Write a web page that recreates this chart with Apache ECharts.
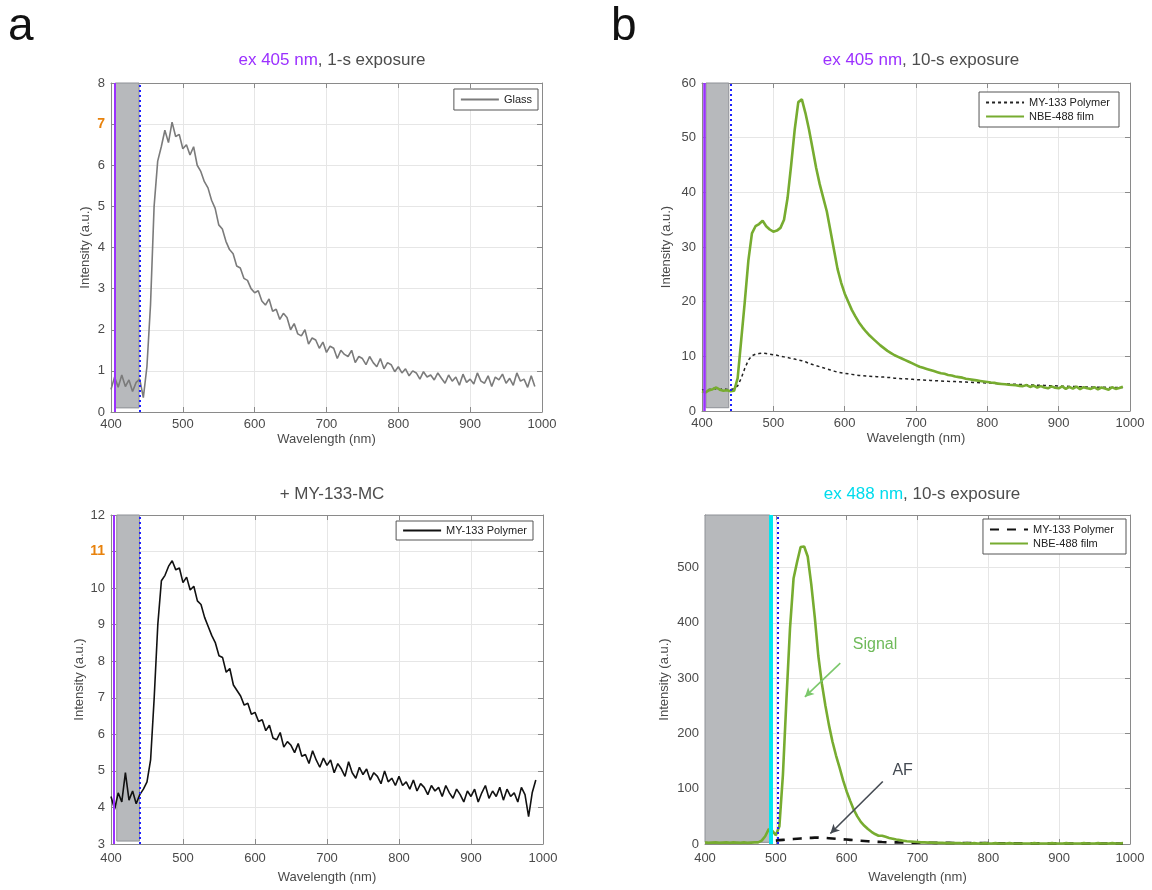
<!DOCTYPE html>
<html><head><meta charset="utf-8">
<script src="https://cdn.jsdelivr.net/npm/echarts@6/dist/echarts.min.js"></script>
<style>html,body{margin:0;padding:0;background:#fff}#c{width:1152px;height:890px}</style>
</head><body><div id="c"></div>
<script>
// ---- sampling of the spectra (nm) ----
const WL_START = 400, WL_STEP = 5;

// panel a, top: Glass, ex 405 nm, 1-s
const glass = [0.55,0.85,0.6,0.9,0.62,0.78,0.5,0.72,0.8,0.35,
 1.1,2.6,5.0,6.1,6.45,6.85,6.55,7.05,6.7,6.75,
 6.4,6.5,6.25,6.45,6.0,5.85,5.6,5.45,5.15,4.95,
 4.55,4.45,4.15,3.95,3.85,3.55,3.5,3.25,3.2,3.0,
 2.9,2.95,2.7,2.6,2.75,2.45,2.5,2.25,2.4,2.3,
 2.0,2.15,1.9,1.85,2.0,1.65,1.8,1.75,1.55,1.7,
 1.45,1.6,1.55,1.3,1.5,1.4,1.35,1.5,1.2,1.35,
 1.3,1.15,1.35,1.2,1.1,1.3,1.05,1.2,1.15,0.98,
 1.1,0.95,1.05,0.88,1.0,0.95,0.8,0.98,0.85,0.9,
 0.78,0.95,0.82,0.7,0.9,0.75,0.85,0.65,0.92,0.72,
 0.8,0.68,0.95,0.75,0.7,0.88,0.62,0.85,0.78,0.92,
 0.7,0.82,0.65,0.95,0.75,0.8,0.6,0.88,0.62];

// panel a, bottom: MY-133 Polymer
const my133A = [4.3,3.95,4.4,4.15,4.95,4.2,4.45,4.1,4.35,4.5,
 4.7,5.3,7.0,9.0,10.2,10.35,10.6,10.75,10.5,10.55,
 10.15,10.3,9.95,10.05,9.65,9.55,9.2,8.95,8.7,8.5,
 8.15,8.1,7.7,7.8,7.35,7.2,7.05,6.8,6.85,6.55,
 6.6,6.35,6.4,6.1,6.25,5.9,5.85,6.05,5.65,5.8,
 5.7,5.5,5.75,5.4,5.45,5.2,5.55,5.3,5.1,5.35,
 5.15,5.3,4.95,5.2,5.05,4.85,5.25,4.95,4.8,5.1,
 4.9,5.05,4.75,4.95,4.85,4.65,5.0,4.7,4.8,4.6,
 4.85,4.6,4.7,4.5,4.75,4.45,4.65,4.55,4.35,4.6,
 4.45,4.55,4.3,4.6,4.4,4.25,4.5,4.35,4.15,4.45,
 4.3,4.5,4.15,4.4,4.6,4.25,4.45,4.3,4.55,4.2,
 4.5,4.3,4.4,4.15,4.55,4.35,3.75,4.4,4.75];

// panel b, top: ex 405 nm, 10-s
const my133B = [3.8,4.0,3.9,4.2,4.0,3.9,4.1,3.95,3.9,4.1,
 4.6,6.0,7.8,9.3,10.1,10.4,10.5,10.6,10.5,10.4,
 10.3,10.2,10.0,9.9,9.8,9.6,9.5,9.3,9.2,9.0,
 8.7,8.5,8.3,8.1,7.9,7.7,7.5,7.3,7.1,7.0,
 6.9,6.8,6.7,6.6,6.5,6.45,6.4,6.35,6.3,6.28,
 6.25,6.2,6.15,6.1,6.0,5.95,5.9,5.9,5.85,5.8,
 5.75,5.7,5.68,5.62,5.6,5.55,5.52,5.5,5.45,5.42,
 5.4,5.38,5.35,5.3,5.3,5.25,5.22,5.2,5.18,5.15,
 5.12,5.1,5.05,5.02,5.0,4.98,4.95,4.92,4.9,4.85,
 4.82,4.8,4.78,4.75,4.72,4.7,4.68,4.65,4.62,4.6,
 4.58,4.55,4.52,4.5,4.48,4.46,4.44,4.42,4.4,4.38,
 4.36,4.35,4.34,4.33,4.32,4.31,4.3,4.3,4.28];
const nbeB = [3.6,3.4,3.8,4.0,4.3,3.9,3.7,3.8,3.6,3.7,
 6,13,20,27.5,32.5,33.8,34.2,34.8,33.8,33.2,
 32.8,33.0,33.5,35,39,45,51.5,56.5,57,54.5,
 51.5,48,44.5,41.5,39,36.5,33,29.5,26,23.5,
 21.5,20,18.5,17.3,16.2,15.3,14.5,13.8,13.2,12.6,
 12.0,11.5,11.0,10.6,10.2,9.9,9.6,9.3,9.0,8.7,
 8.4,8.1,7.9,7.7,7.5,7.3,7.1,6.9,6.8,6.6,
 6.5,6.3,6.2,6.1,5.9,5.8,5.7,5.6,5.5,5.4,
 5.3,5.2,5.15,5.0,4.95,4.9,4.8,4.75,4.7,4.6,
 4.55,4.75,4.4,4.65,4.3,4.55,4.3,4.15,4.5,4.25,
 4.15,4.5,4.05,4.4,4.1,4.45,4.0,4.35,4.15,4.05,
 4.35,3.95,4.3,4.1,3.9,4.35,4.05,4.2,4.45];

// panel b, bottom: ex 488 nm, 10-s
const my133C = [null,null,null,null,null,null,null,null,null,null,
 null,null,null,null,null,null,null,null,null,null,
 6,7,7.5,8,8.5,9,9.5,10,10.5,11,
 11,11.5,11.5,11,11,10.5,10,9.5,9,8.5,
 8,7.5,7,6.5,6,5.5,5,4.5,4,3.8,
 3.5,3.3,3.1,3,2.9,2.8,2.7,2.6,2.5,2.5,
 2.4,2.3,2.3,2.2,2.2,2.1,2.1,2,2,2,
 1.9,1.9,1.8,1.8,1.7,1.7,1.6,1.6,1.5,1.5,
 1.5,1.4,1.4,1.4,1.3,1.3,1.3,1.2,1.2,1.2,
 1.2,1.2,1.1,1.1,1.1,1.1,1.1,1,1,1,
 1,1,1,1,1,1,1,1,1,1,
 1,1,1,1,1,1,1,1,1];
const nbeC = [3,2,2.5,3,2,2.5,3,2,3,2.5,
 2,3,2,2.5,3,3,6,14,27,24,
 16,32,125,262,390,480,510,537,538,520,
 470,410,340,290,250,215,185,160,138,115,
 95,78,62,50,40,33,27,22,18,15,
 15,13,11,9.5,8,7,6,5,4.5,4,
 3.5,3,3,2.5,2.5,2,2,2,1.5,1.5,
 1.5,1.5,1.5,1,1.5,1,1.5,1,1,1.5,
 1,1,1.5,1,1,1,1.5,1,1,1,
 1,1,1,1.5,1,1,1,1,1.5,1,
 1,1,1.5,1,1,1,1,1.5,1,1,
 1,1.5,1,1,1,1.5,1,1,1.5];

// excitation / filter markers (nm) and shaded blocked range
const exLineA = 405, filterA = 440, bandA = [406, 439];
const exLineA2 = 404.5, filterA2 = 440.5, bandA2 = [408, 439.5];
const exLineB = 402.5, filterB = 440, bandB = [405.5, 437.5];
const exLineC = 493, filterC = 502.5, bandC = [400, 491.5];

// annotation anchors in data space [nm, a.u.]
const signalText = [640, 360], signalArrow = [[591, 327], [541, 266]];
const afText = [679, 133], afArrow = [[651, 113], [577, 19]];

// axis tick settings
const xTicks = {min: 400, max: 1000, interval: 100};
const yTicks = [
  {min: 0, max: 8, interval: 1, hl: 7},
  {min: 3, max: 12, interval: 1, hl: 11},
  {min: 0, max: 60, interval: 10},
  {min: 0, max: 595, interval: 100, hideMax: true}
];

const toPairs = vals => vals.map((v, i) => [WL_START + i * WL_STEP, v]);

const FONT = '"Liberation Sans", Arial, Helvetica, sans-serif';
const AXC = '#8a8a8a', GRIDC = '#e6e6e6', TXT = '#4a4a4a';
const PURPLE = '#9b30ff', BLUE = '#1f1fff', CYAN = '#00e6f0', GREEN = '#77ac30';
const BANDC = '#b7b9bc';

const grids = [
  {left: 111, top: 83, width: 431, height: 329},
  {left: 111, top: 515, width: 432, height: 329},
  {left: 702, top: 83, width: 428, height: 328},
  {left: 705, top: 515, width: 425, height: 329}
];
const yNameGap = [19, 24, 29, 34];
const xNameGap = [21, 27, 21, 27];
const xLabelMargin = [6, 8, 6, 8];

const xAxis = [], yAxis = [];
grids.forEach((g, i) => {
  xAxis.push({
    type: 'value', gridIndex: i, min: xTicks.min, max: xTicks.max, interval: xTicks.interval,
    position: 'bottom', name: 'Wavelength (nm)', nameLocation: 'middle', nameGap: xNameGap[i],
    nameTextStyle: {fontSize: 13, color: TXT, fontFamily: FONT},
    axisLine: {show: true, onZero: false, lineStyle: {color: AXC, width: 1}},
    axisTick: {show: true, inside: true, length: 5, lineStyle: {color: AXC}},
    axisLabel: {fontSize: 13, color: TXT, fontFamily: FONT, margin: xLabelMargin[i], formatter: v => String(v)},
    splitLine: {show: true, lineStyle: {color: GRIDC, width: 1}}
  });
  xAxis.push({
    type: 'value', gridIndex: i, min: xTicks.min, max: xTicks.max, interval: xTicks.interval,
    position: 'top',
    axisLine: {show: true, onZero: false, lineStyle: {color: AXC, width: 1}},
    axisTick: {show: true, inside: true, length: 5, lineStyle: {color: AXC}},
    axisLabel: {show: false}, splitLine: {show: false}
  });
  const yt = yTicks[i];
  yAxis.push({
    type: 'value', gridIndex: i, min: yt.min, max: yt.max, interval: yt.interval,
    position: 'left', name: 'Intensity (a.u.)', nameLocation: 'middle', nameGap: yNameGap[i],
    nameTextStyle: {fontSize: 13, color: TXT, fontFamily: FONT},
    axisLine: {show: true, onZero: false, lineStyle: {color: AXC, width: 1}},
    axisTick: {show: true, inside: true, length: 5, lineStyle: {color: AXC}},
    axisLabel: {
      fontSize: 13, color: TXT, fontFamily: FONT, margin: 6, showMaxLabel: !yt.hideMax,
      formatter: v => (yt.hl !== undefined && v === yt.hl) ? '{o|' + v + '}' : String(v),
      rich: {o: {color: '#e8820c', fontWeight: 'bold', fontSize: 14, fontFamily: FONT}}
    },
    splitLine: {show: true, lineStyle: {color: GRIDC, width: 1}}
  });
  yAxis.push({
    type: 'value', gridIndex: i, min: yt.min, max: yt.max, interval: yt.interval,
    position: 'right',
    axisLine: {show: true, onZero: false, lineStyle: {color: AXC, width: 1}},
    axisTick: {show: true, inside: true, length: 5, lineStyle: {color: AXC}},
    axisLabel: {show: false}, splitLine: {show: false}
  });
});

function decor(i, exLine, exColor, exWidth, filter, band, yLo) {
  const yt = yTicks[i];
  return [
    {
      type: 'line', xAxisIndex: 2 * i, yAxisIndex: 2 * i, data: [], z: 1, silent: true,
      markArea: {
        silent: true,
        itemStyle: {color: BANDC, borderColor: '#8e9196', borderWidth: 1},
        data: [[{coord: [band[0], yLo]}, {coord: [band[1], yt.max]}]]
      }
    },
    {
      type: 'line', xAxisIndex: 2 * i, yAxisIndex: 2 * i, data: [], z: 5, silent: true,
      markLine: {
        silent: true, symbol: ['none', 'none'], label: {show: false},
        data: [
          {xAxis: exLine, lineStyle: {color: exColor, width: exWidth, type: 'solid'}},
          {xAxis: filter, lineStyle: {color: BLUE, width: 2, type: [2, 3]}}
        ]
      }
    }
  ];
}

const series = [];
series.push(...decor(0, exLineA, PURPLE, 2, filterA, bandA, 0.1));
series.push(...decor(1, exLineA2, PURPLE, 2, filterA2, bandA2, 3.08));
series.push(...decor(2, exLineB, PURPLE, 2.5, filterB, bandB, 0.6));
series.push(...decor(3, exLineC, CYAN, 4, filterC, bandC, 3));

const lineBase = {type: 'line', showSymbol: false, symbol: 'none', animation: false, z: 3, silent: true};
series.push(Object.assign({}, lineBase, {name: 'Glass', xAxisIndex: 0, yAxisIndex: 0,
  data: toPairs(glass), lineStyle: {color: '#7b7b7b', width: 1.6}, itemStyle: {color: '#7b7b7b'}}));
series.push(Object.assign({}, lineBase, {name: 'MY-133 Polymer', xAxisIndex: 2, yAxisIndex: 2,
  data: toPairs(my133A), lineStyle: {color: '#111', width: 1.6}, itemStyle: {color: '#111'}}));
series.push(Object.assign({}, lineBase, {name: 'MY-133 Polymer ', xAxisIndex: 4, yAxisIndex: 4,
  data: toPairs(my133B), lineStyle: {color: '#222', width: 1.5, type: [3, 3]}, itemStyle: {color: '#222'}}));
series.push(Object.assign({}, lineBase, {name: 'NBE-488 film', xAxisIndex: 4, yAxisIndex: 4, z: 4,
  data: toPairs(nbeB), lineStyle: {color: GREEN, width: 2.6}, itemStyle: {color: GREEN}}));
series.push(Object.assign({}, lineBase, {name: 'MY-133 Polymer  ', xAxisIndex: 6, yAxisIndex: 6,
  data: toPairs(my133C), lineStyle: {color: '#111', width: 2.6, type: [9, 8]}, itemStyle: {color: '#111'}}));
series.push(Object.assign({}, lineBase, {name: 'NBE-488 film ', xAxisIndex: 6, yAxisIndex: 6, z: 4,
  data: toPairs(nbeC), lineStyle: {color: GREEN, width: 2.6}, itemStyle: {color: GREEN}}));

// annotations
series.push({
  type: 'line', xAxisIndex: 6, yAxisIndex: 6, data: [], z: 6, silent: true,
  markLine: {
    silent: true, symbol: ['none', 'arrow'], symbolSize: [7, 9], label: {show: false},
    data: [
      [{coord: signalArrow[0], lineStyle: {color: '#7cc86c', width: 1.6, type: 'solid'}}, {coord: signalArrow[1]}],
      [{coord: afArrow[0], lineStyle: {color: '#444a52', width: 1.6, type: 'solid'}}, {coord: afArrow[1]}]
    ]
  },
  markPoint: {
    silent: true, symbol: 'circle', symbolSize: 0,
    data: [
      {coord: signalText, label: {show: true, position: 'inside', formatter: 'Signal', color: '#6fba5a', fontSize: 16, fontFamily: FONT}},
      {coord: afText, label: {show: true, position: 'inside', formatter: 'AF', color: '#444a52', fontSize: 16, fontFamily: FONT}}
    ]
  }
});

const legendBase = {
  orient: 'vertical', itemWidth: 38, itemHeight: 10, itemGap: 3, selectedMode: false,
  backgroundColor: '#fff', borderColor: '#555', borderWidth: 1, borderRadius: 0, padding: [5, 6, 5, 6],
  itemStyle: {opacity: 0, borderWidth: 0},
  textStyle: {fontSize: 11, color: '#222', fontFamily: FONT}
};
const legend = [
  Object.assign({}, legendBase, {data: ['Glass'], right: 1152 - 538, top: 89}),
  Object.assign({}, legendBase, {data: ['MY-133 Polymer'], right: 1152 - 533, top: 521, padding: [4, 6, 4, 6]}),
  Object.assign({}, legendBase, {data: ['MY-133 Polymer ', 'NBE-488 film'], right: 1152 - 1119, top: 92}),
  Object.assign({}, legendBase, {data: ['MY-133 Polymer  ', 'NBE-488 film '], right: 1152 - 1126, top: 519})
];

const tRich = {
  p: {color: PURPLE, fontSize: 17, fontWeight: 'normal', fontFamily: FONT},
  c: {color: '#00dced', fontSize: 17, fontWeight: 'normal', fontFamily: FONT},
  g: {color: '#4d4d4d', fontSize: 17, fontWeight: 'normal', fontFamily: FONT}
};
const tStyle = {fontWeight: 'normal', rich: tRich};
const title = [
  {text: '{p|ex 405 nm}{g|, 1-s exposure}', left: 327, top: 47, textAlign: 'center', textStyle: tStyle},
  {text: '{g|+ MY-133-MC}', left: 327, top: 481, textAlign: 'center', textStyle: tStyle},
  {text: '{p|ex 405 nm}{g|, 10-s exposure}', left: 916, top: 47, textAlign: 'center', textStyle: tStyle},
  {text: '{c|ex 488 nm}{g|, 10-s exposure}', left: 917, top: 481, textAlign: 'center', textStyle: tStyle}
];

const chart = echarts.init(document.getElementById('c'), null, {renderer: 'canvas'});
chart.setOption({
  animation: false,
  backgroundColor: '#fff',
  textStyle: {fontFamily: FONT},
  title, legend,
  grid: grids.map(g => Object.assign({containLabel: false}, g)),
  xAxis, yAxis, series,
  graphic: [
    {type: 'text', left: 8, top: 4, style: {text: 'a', fontSize: 46, fill: '#111', fontFamily: FONT}},
    {type: 'text', left: 611, top: 4, style: {text: 'b', fontSize: 46, fill: '#111', fontFamily: FONT}}
  ]
});
</script></body></html>
